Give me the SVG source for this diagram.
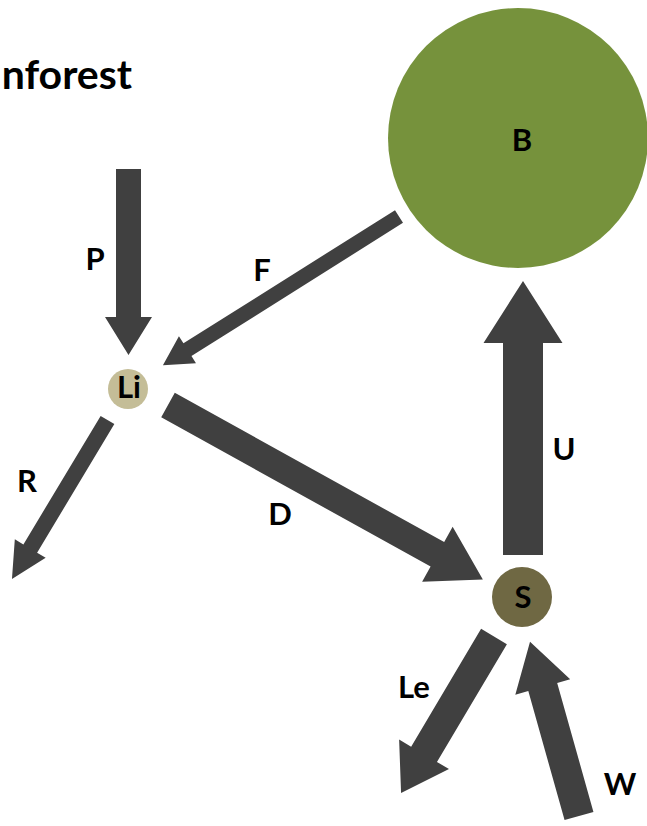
<svg xmlns="http://www.w3.org/2000/svg" width="647" height="826" viewBox="0 0 647 826">
  <style>
    .arrow { fill: #404040; }
    .lbl { font-family: Lato, "Open Sans", "Liberation Sans", sans-serif; font-weight: bold; font-size: 31px; fill: #000; text-anchor: middle; }
    .title { font-family: Lato, "Open Sans", "Liberation Sans", sans-serif; font-weight: bold; font-size: 41px; fill: #000; text-anchor: end; }
  </style>
  <rect width="647" height="826" fill="#fff"/>

  <text class="title" x="132" y="89">nforest</text>

  <!-- flows: each arrow is drawn pointing along +x from its tail, then placed -->
  <g id="connectors">
    <!-- P: precipitation into litter -->
    <polygon class="arrow" transform="translate(128.5,169) rotate(90)" points="0,-12.5 148,-12.5 148,-23.5 186,0 148,23.5 148,12.5 0,12.5"/>
    <!-- F: litterfall from biomass -->
    <polygon class="arrow" transform="translate(399,216.5) rotate(147.8)" points="0,-7.5 250,-7.5 250,-16 279,0 250,16 250,7.5 0,7.5"/>
    <!-- R: runoff from litter -->
    <polygon class="arrow" transform="translate(107.5,420) rotate(121)" points="0,-8 150,-8 150,-18 185.5,0 150,18 150,8 0,8"/>
    <!-- D: decomposition into soil -->
    <polygon class="arrow" transform="translate(168,405) rotate(29)" points="0,-14 308,-14 308,-31.5 360,0 308,31.5 308,14 0,14"/>
    <!-- U: uptake by biomass -->
    <polygon class="arrow" transform="translate(523,555) rotate(-90)" points="0,-20 212,-20 212,-39.5 274,0 212,39.5 212,20 0,20"/>
    <!-- Le: leaching from soil -->
    <polygon class="arrow" transform="translate(494,636.5) rotate(120.7)" points="0,-15 137,-15 137,-29 182,0 137,29 137,15 0,15"/>
    <!-- W: weathering into soil -->
    <polygon class="arrow" transform="translate(579,816) rotate(-105.7)" points="0,-15 134,-15 134,-28.5 181,0 134,28.5 134,15 0,15"/>
  </g>

  <g id="node-B">
    <circle cx="518" cy="138" r="130" fill="#76923C"/>
    <text class="lbl" x="522" y="151">B</text>
  </g>
  <g id="node-Li">
    <circle cx="128" cy="389" r="20" fill="#C4BD97"/>
    <text class="lbl" x="129" y="398">Li</text>
  </g>
  <g id="node-S">
    <circle cx="522" cy="597" r="30" fill="#6F6843"/>
    <text class="lbl" x="523" y="608">S</text>
  </g>

  <g id="labels">
    <text class="lbl" x="95" y="270">P</text>
    <text class="lbl" x="262" y="281">F</text>
    <text class="lbl" x="27" y="492">R</text>
    <text class="lbl" x="280" y="525">D</text>
    <text class="lbl" x="564" y="460">U</text>
    <text class="lbl" x="414" y="698">Le</text>
    <text class="lbl" x="620" y="795">W</text>
  </g>
</svg>
